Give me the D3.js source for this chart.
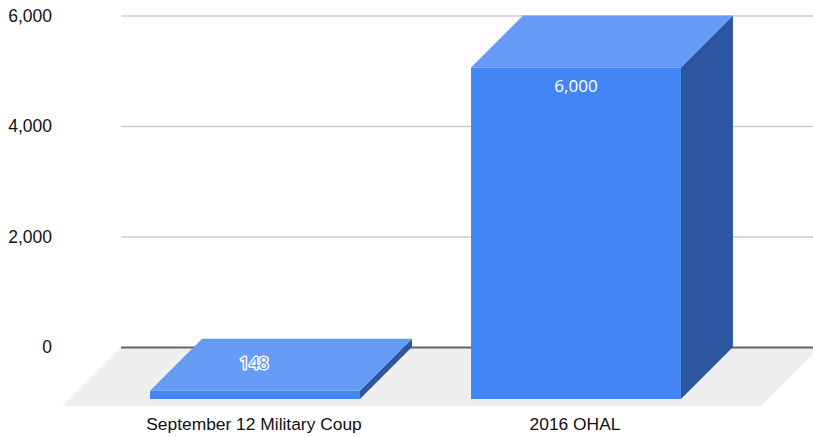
<!DOCTYPE html>
<html>
<head>
<meta charset="utf-8">
<script src="https://cdn.jsdelivr.net/npm/d3@7"></script>
<style>
    html, body { margin: 0; padding: 0; background: #fff; }
    svg { display: block; }
    .axis text, .cat { font-family: "Liberation Sans", Arial, sans-serif; fill: #111; }
    .val { font-family: "Open Sans", sans-serif; fill: #fff; text-anchor: middle; }
</style>
</head>
<body>
<svg width="813" height="437"></svg>
<script>
const categories = ['September 12 Military Coup', '2016 OHAL'];
const values = [148, 6000];
const yTicks = [0, 2000, 4000, 6000];

const svg = d3.select('svg');

//depth of the fake 3d, front plane sits down and left of the back plane
const depth = 52;

const yScale = d3.scaleLinear().domain([0, 6000]).range([347, 15.5]);
const xScale = d3.scaleBand()
    .domain(categories)
    .range([94.5, 736.5])
    .paddingInner(0.346)
    .paddingOuter(0.173);

//floor
svg.append('path')
    .attr('d', 'M121,347 L820,347 L761,406 L62,406 Z')
    .attr('fill', '#eeeeee');

//y axis with grid lines
const yAxis = d3.axisLeft(yScale)
    .tickValues(yTicks)
    .tickFormat(d3.format(','))
    .tickSizeInner(-692)
    .tickSizeOuter(0)
    .tickPadding(69);

const axis = svg.append('g')
    .attr('class', 'axis')
    .attr('transform', 'translate(121,0)')
    .call(yAxis);
axis.select('.domain').remove();
axis.selectAll('.tick line')
    .attr('stroke', d => d === 0 ? '#666666' : '#cccccc')
    .attr('stroke-width', d => d === 0 ? 2 : 1.5);
axis.selectAll('.tick text')
    .attr('font-size', 17.5)
    .attr('dy', '0.32em');

//bars
const bar = svg.selectAll('.bar')
    .data(categories.map((c, i) => ({ name: c, value: values[i] })))
    .enter()
    .append('g')
    .attr('class', 'bar');

const x0 = d => xScale(d.name);
const x1 = d => xScale(d.name) + xScale.bandwidth();
const barTop = d => yScale(d.value) + depth;
const base = yScale(0) + depth;

bar.append('path')
    .attr('d', d => `M${x1(d)},${barTop(d)} L${x1(d) + depth},${barTop(d) - depth} L${x1(d) + depth},${base - depth} L${x1(d)},${base} Z`)
    .attr('fill', '#2c56a0');

bar.append('path')
    .attr('d', d => `M${x0(d)},${barTop(d)} L${x0(d) + depth},${barTop(d) - depth} L${x1(d) + depth},${barTop(d) - depth} L${x1(d)},${barTop(d)} Z`)
    .attr('fill', '#669cf6');

bar.append('rect')
    .attr('x', x0)
    .attr('y', barTop)
    .attr('width', xScale.bandwidth())
    .attr('height', d => base - barTop(d))
    .attr('fill', '#4285f4');

//small bar has its label on the top face, with a white halo
bar.filter(d => d.value < 1000).append('text')
    .attr('class', 'val')
    .attr('x', d => xScale(d.name) + xScale.bandwidth() / 2 - 1)
    .attr('y', d => barTop(d) - 22)
    .attr('font-size', 17)
    .attr('stroke', '#ffffff')
    .attr('stroke-width', 3)
    .attr('stroke-linejoin', 'round')
    .attr('paint-order', 'stroke')
    .attr('style', 'fill:#5b93f2')
    .text(d => d3.format(',')(d.value));

bar.filter(d => d.value >= 1000).append('text')
    .attr('class', 'val')
    .attr('x', d => xScale(d.name) + xScale.bandwidth() / 2)
    .attr('y', d => barTop(d) + 24)
    .attr('font-size', 17)
    .text(d => d3.format(',')(d.value));

//category labels
svg.selectAll('.cat')
    .data(categories)
    .enter()
    .append('text')
    .attr('class', 'cat')
    .attr('x', d => xScale(d) + xScale.bandwidth() / 2 - 1)
    .attr('y', 430)
    .attr('text-anchor', 'middle')
    .attr('font-size', 17.4)
    .text(d => d);
</script>
</body>
</html>
